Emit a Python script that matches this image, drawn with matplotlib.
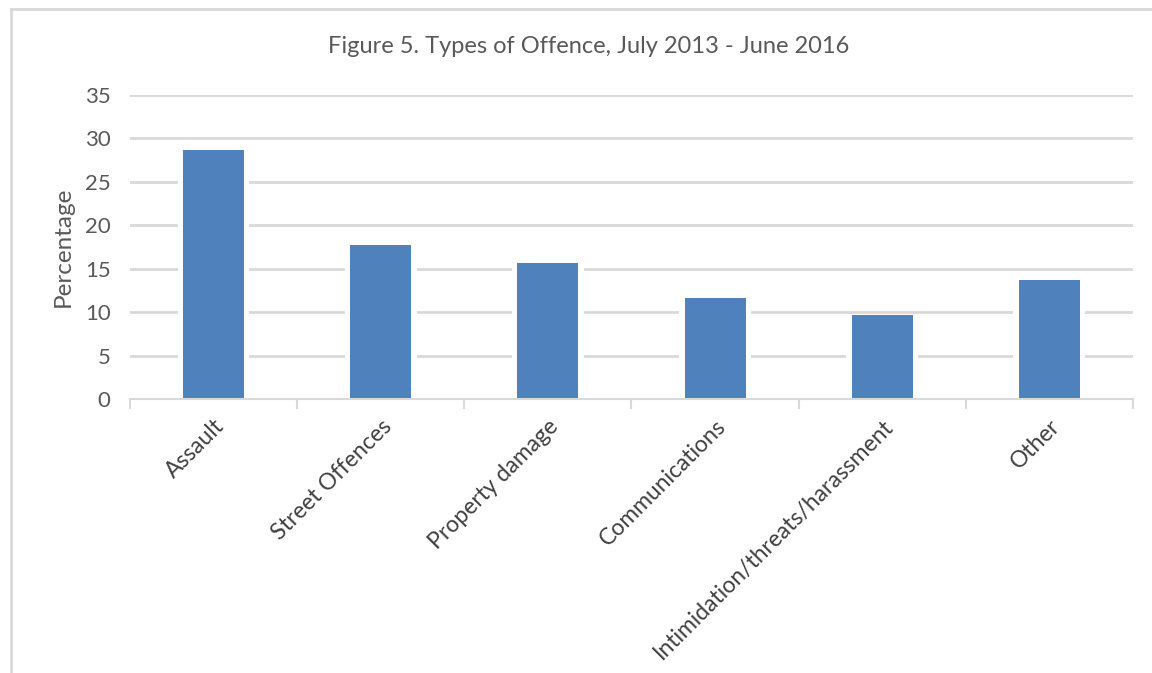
import matplotlib.pyplot as plt
from matplotlib.lines import Line2D

categories = ["Assault", "Street Offences", "Property damage", "Communications",
              "Intimidation/threats/harassment", "Other"]
percentages = [28.7, 17.7, 15.7, 11.6, 9.7, 13.7]
y_ticks = [0, 5, 10, 15, 20, 25, 30, 35]

plt.rcParams['font.family'] = ['Lato', 'DejaVu Sans']
text_grey = '#595959'
label_grey = '#404040'
line_grey = '#d9d9d9'

fig = plt.figure(figsize=(11.52, 6.73), dpi=100)
ax = fig.add_axes([0.1128, 0.4071, 0.8707, 0.4517])

x = list(range(len(categories)))
# white halo behind each bar, then the bar itself
ax.bar(x, percentages, width=0.43, color='white', zorder=2)
ax.bar(x, percentages, width=0.365, color='#4f81bd', zorder=3)

ax.set_xlim(-0.5, len(categories) - 0.5)
ax.set_ylim(0, 35)
ax.set_yticks(y_ticks)
ax.set_yticklabels([str(t) for t in y_ticks], fontsize=16, color=text_grey)
ax.yaxis.grid(True, color=line_grey, linewidth=2, zorder=0)
ax.tick_params(axis='y', length=0, pad=14)

ax.set_xticks(x)
ax.set_xticklabels(categories, rotation=45, ha='right', rotation_mode='anchor',
                   fontsize=16.5, color=label_grey)
ax.set_xticks([i - 0.5 for i in range(len(categories) + 1)], minor=True)
ax.tick_params(axis='x', which='major', length=0, pad=12)
ax.tick_params(axis='x', which='minor', length=7, width=1.5, color=line_grey)

for side in ['top', 'right', 'left']:
    ax.spines[side].set_visible(False)
ax.spines['bottom'].set_color(line_grey)
ax.spines['bottom'].set_linewidth(1.5)
ax.spines['bottom'].set_zorder(4)
ax.set_axisbelow(True)

ax.set_ylabel("Percentage", fontsize=17.5, color=text_grey, labelpad=8)
fig.text(0.511, 0.931, "Figure 5. Types of Offence, July 2013 - June 2016",
         ha='center', va='center', fontsize=17, color=text_grey)

# chart frame (left and top edges)
fig.add_artist(Line2D([0.0098, 0.0098], [0, 0.987], color=line_grey, linewidth=2))
fig.add_artist(Line2D([0.0098, 1.0], [0.987, 0.987], color=line_grey, linewidth=2))

fig.savefig("out.png", dpi=100)
